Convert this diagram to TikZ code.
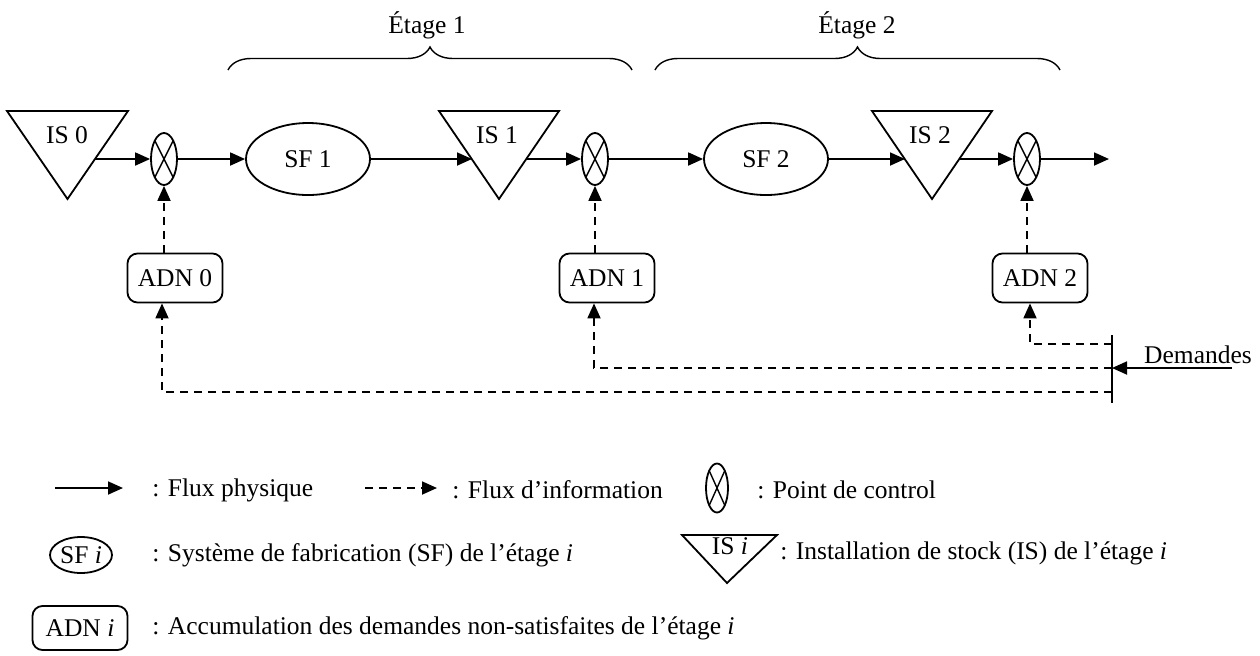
\documentclass[tikz,border=0pt]{standalone}
\usepackage{fontspec}
\setmainfont{Liberation Serif}
\usetikzlibrary{arrows.meta,shapes.geometric,decorations.pathreplacing,positioning}
\tikzstyle{flux} = [-{Triangle[length=7.5pt,width=6.5pt]},line width=0.9pt]
\tikzstyle{info} = [flux,dash pattern=on 4pt off 3pt]
\tikzstyle{fab} = [draw,ellipse,line width=0.9pt,minimum width=62pt,minimum height=36pt,inner sep=0pt]
\tikzstyle{adn} = [draw,rounded corners=5pt,line width=0.9pt,minimum width=47.5pt,minimum height=24.5pt,inner sep=0pt]
\tikzstyle{pc} = [draw,ellipse,line width=0.9pt,minimum width=13pt,minimum height=26pt,inner sep=0pt,
  path picture={\draw[line width=0.7pt] (path picture bounding box.north west) -- (path picture bounding box.south east)
  (path picture bounding box.north east) -- (path picture bounding box.south west);}]
\tikzstyle{stock} = [line width=0.9pt,line join=miter]
\tikzstyle{lbl} = [anchor=west,inner sep=0pt]
\tikzstyle{brace} = [decorate,decoration={brace,amplitude=11.5pt},line width=0.7pt]

\begin{document}
\begin{tikzpicture}[x=0.5pt,y=-0.5pt,font=\fontsize{12.75pt}{15pt}\selectfont]
    \useasboundingbox (0,0) rectangle (1260,655);

    % etages
    \draw[brace] (228,70) -- (632,70);
    \draw[brace] (655,70) -- (1060,70);
    \node (e1) at (427,25) {Étage 1};
    \node (e2) at (857,25) {Étage 2};

    % stocks
    \draw[stock] (7,111) -- (128,111) -- (67.5,199) -- cycle;
    \draw[stock] (439,111) -- (559,111) -- (499,199) -- cycle;
    \draw[stock] (872,111) -- (992,111) -- (932,199) -- cycle;
    \node (is0) at (67,135) {IS 0};
    \node (is1) at (497,135) {IS 1};
    \node (is2) at (930,135) {IS 2};
    \coordinate (is0-e) at (95,159);
    \coordinate (is1-w) at (472,159);
    \coordinate (is1-e) at (526,159);
    \coordinate (is2-w) at (905,159);
    \coordinate (is2-e) at (959,159);

    \node[pc] (c0) at (164,159) {};
    \node[fab] (sf1) at (308,159) {SF 1};
    \node[pc] (c1) at (595,159) {};
    \node[fab] (sf2) at (766,159) {SF 2};
    \node[pc] (c2) at (1027,159) {};
    \coordinate (fin) at (1109,159);

    \draw[flux] (is0-e) -- (c0);
    \draw[flux] (c0) -- (sf1);
    \draw[flux] (sf1) -- (is1-w);
    \draw[flux] (is1-e) -- (c1);
    \draw[flux] (c1) -- (sf2);
    \draw[flux] (sf2) -- (is2-w);
    \draw[flux] (is2-e) -- (c2);
    \draw[flux] (c2) -- (fin);

    % demandes non satisfaites
    \node[adn] (adn0) at (175,278) {ADN 0};
    \node[adn] (adn1) at (607,278) {ADN 1};
    \node[adn] (adn2) at (1040,278) {ADN 2};
    \draw[info] (c0 |- adn0.north) -- (c0);
    \draw[info] (c1 |- adn1.north) -- (c1);
    \draw[info] (c2 |- adn2.north) -- (c2);

    \coordinate (b-h) at (1112,335);
    \coordinate (b-b) at (1112,403);
    \draw[line width=0.9pt] (b-h) -- (b-b);
    \coordinate (d2) at (1112,344);
    \coordinate (d1) at (1112,368);
    \coordinate (d0) at (1112,392);
    \draw[info] (d2) -| ([xshift=-5pt]adn2.south);
    \draw[info] (d1) -| ([xshift=-6.5pt]adn1.south);
    \draw[info] (d0) -| ([xshift=-6.5pt]adn0.south);
    \coordinate (dem) at (1232,368);
    \draw[flux] (dem) -- (d1);
    \node[anchor=base] (dem-t) at (1198,363) {Demandes};

    % legende
    \coordinate (l1a) at (55,488);
    \coordinate (l1b) at (123,488);
    \draw[flux] (l1a) -- (l1b);
    \node[lbl] (t1) at (152,490) {: Flux physique};
    \coordinate (l2a) at (365,488);
    \coordinate (l2b) at (437,488);
    \draw[info] (l2a) -- (l2b);
    \node[lbl] (t2) at (452,490) {: Flux d’information};
    \node[pc,minimum width=11pt,minimum height=24.5pt] (lpc) at (717,488) {};
    \node[lbl] (t3) at (757,490) {: Point de control};

    \node[fab,minimum width=31pt,minimum height=18pt] (lsf) at (81,555) {SF \textit{i}};
    \node[lbl] (t4) at (152,555) {: Système de fabrication (SF) de l’étage \textit{i}};
    \draw[stock] (682,535) -- (777,535) -- (727,583) -- cycle;
    \node (lis) at (730,546) {IS \textit{i}};
    \node[lbl] (t5) at (780,553) {: Installation de stock (IS) de l’étage \textit{i}};

    \node[adn,minimum height=22pt] (ladn) at (80,628) {ADN \textit{i}};
    \node[lbl] (t6) at (152,628) {: Accumulation des demandes non-satisfaites de l’étage \textit{i}};
\end{tikzpicture}
\end{document}
